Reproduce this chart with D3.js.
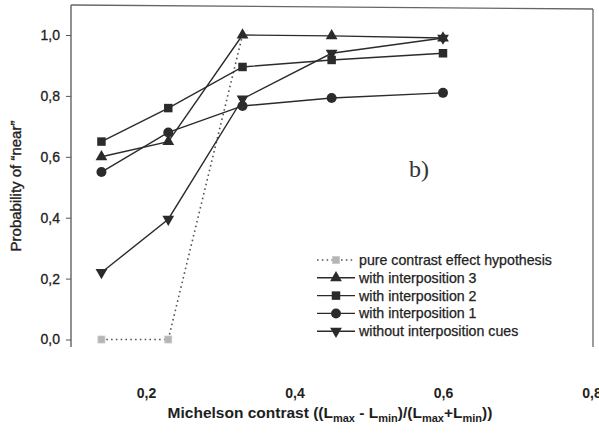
<!DOCTYPE html>
<html><head><meta charset="utf-8">
<script src="https://cdn.jsdelivr.net/npm/d3@7"></script>
<style>
html,body{margin:0;padding:0;background:#fff;}
svg{display:block;}
text{font-family:"Liberation Sans",Arial,sans-serif;fill:#2a2a2a;}
</style></head>
<body>
<svg id="c" width="599" height="441"></svg>
<script>
const contrast = [0.14, 0.23, 0.33, 0.45, 0.60];
const pureContrast = [0.0, 0.0, 1.0];
const interp3 = [0.60, 0.65, 1.00, 0.997, 0.99];
const interp2 = [0.65, 0.76, 0.895, 0.918, 0.94];
const interp1 = [0.55, 0.68, 0.767, 0.793, 0.81];
const noInterp = [0.22, 0.395, 0.79, 0.94, 0.99];
const xTicks = [0.2, 0.4, 0.6, 0.8];
const yTicks = [0.0, 0.2, 0.4, 0.6, 0.8, 1.0];
const legendLabels = ["pure contrast effect hypothesis","with interposition 3","with interposition 2","with interposition 1","without interposition cues"];

const svg = d3.select("#c");
const x = d3.scaleLinear().domain([0, 0.8]).range([-2.5, 591.5]);
const y = d3.scaleLinear().domain([0, 1]).range([339.5, 35]);
const fmt = d => d3.format(".1f")(d).replace(".", ",");
const ink = "#2b2b2b";

// frame
svg.append("line").attr("x1",71).attr("y1",5).attr("x2",71).attr("y2",347).attr("stroke","#555").attr("stroke-width",1.3);
svg.append("line").attr("x1",71).attr("y1",5).attr("x2",593).attr("y2",9).attr("stroke","#666").attr("stroke-width",1.3);
svg.append("line").attr("x1",593).attr("y1",9).attr("x2",593).attr("y2",347).attr("stroke","#666").attr("stroke-width",1.3);

// y axis
const ya = svg.append("g").attr("transform","translate(71,0)")
  .call(d3.axisLeft(y).tickValues(yTicks).tickFormat(fmt).tickSize(5).tickPadding(6));
ya.select(".domain").remove();
ya.selectAll("line").attr("stroke","#555");
ya.selectAll("text").style("font-size","14px").style("fill","#222").style("stroke","#222").style("stroke-width","0.3px");

// x axis
const xa = svg.append("g").attr("transform","translate(0,388)")
  .call(d3.axisBottom(x).tickValues(xTicks).tickFormat(fmt).tickSize(0).tickPadding(0));
xa.select(".domain").remove();
xa.selectAll("text").style("font-size","14px").style("font-weight","bold").style("fill","#222");

// axis titles
const xt = svg.append("text").attr("x",330).attr("y",418).attr("text-anchor","middle")
  .style("font-size","15.5px").style("font-weight","bold").style("fill","#1e1e1e");
xt.append("tspan").text("Michelson contrast ((L");
xt.append("tspan").text("max").attr("dy",4).style("font-size","11px");
xt.append("tspan").text(" - L").attr("dy",-4);
xt.append("tspan").text("min").attr("dy",4).style("font-size","11px");
xt.append("tspan").text(")/(L").attr("dy",-4);
xt.append("tspan").text("max").attr("dy",4).style("font-size","11px");
xt.append("tspan").text("+L").attr("dy",-4);
xt.append("tspan").text("min").attr("dy",4).style("font-size","11px");
xt.append("tspan").text("))").attr("dy",-4);

svg.append("text").attr("transform","translate(21,186) rotate(-90)").attr("text-anchor","middle")
  .style("font-size","15px").style("fill","#222").style("stroke","#222").style("stroke-width","0.35px")
  .text("Probability of \u201Cnear\u201D");

svg.append("text").attr("x",409).attr("y",177).style("font-family","'Liberation Serif','Times New Roman',serif")
  .style("font-size","24px").style("fill","#333").text("b)");

// symbols
const sym = {
  tri: d3.symbol().type(d3.symbolTriangle).size(60),
  sq: d3.symbol().type(d3.symbolSquare).size(72),
  circ: d3.symbol().type(d3.symbolCircle).size(78),
  down: d3.symbol().type(d3.symbolTriangle).size(60)
};
function drawMarker(g, kind, cx, cy){
  if(kind === "pure"){
    g.append("rect").attr("x",cx-3.5).attr("y",cy-3.5).attr("width",7).attr("height",7)
      .attr("fill","#b5b5b5").attr("stroke","#c8c8c8").attr("stroke-width",0.8);
    return;
  }
  let tr = `translate(${cx},${cy})`;
  if(kind === "down") tr += " rotate(180)";
  g.append("path").attr("d", sym[kind]()).attr("transform", tr).attr("fill",ink);
}

const line = d3.line().x((d,i)=>x(contrast[i])).y(d=>y(d));
const series = [
  {vals: pureContrast, kind:"pure", dash:"1.6,3.2", color:"#555", w:1.6},
  {vals: interp3, kind:"tri", dash:null, color:ink, w:1.4},
  {vals: interp2, kind:"sq", dash:null, color:ink, w:1.4},
  {vals: interp1, kind:"circ", dash:null, color:ink, w:1.4},
  {vals: noInterp, kind:"down", dash:null, color:ink, w:1.4}
];
const plot = svg.append("g");
series.forEach(s=>{
  plot.append("path").attr("d", line(s.vals)).attr("fill","none").attr("stroke",s.color)
    .attr("stroke-width",s.w).attr("stroke-dasharray",s.dash);
});
series.forEach(s=>{
  s.vals.forEach((v,i)=>{
    if(s.kind==="pure" && v===1.0) return;
    drawMarker(plot, s.kind, x(contrast[i]), y(v));
  });
});

// legend
const leg = svg.append("g");
const ly0 = 260, ldy = 17.8;
series.forEach((s,i)=>{
  const yy = ly0 + i*ldy;
  leg.append("line").attr("x1",317).attr("x2",355).attr("y1",yy).attr("y2",yy)
    .attr("stroke",s.color).attr("stroke-width",s.w).attr("stroke-dasharray",s.dash);
  drawMarker(leg, s.kind, 336, yy);
  leg.append("text").attr("x",359).attr("y",yy+5).style("font-size","14.2px").style("fill","#222")
    .style("stroke","#222").style("stroke-width","0.25px").text(legendLabels[i]);
});
</script>
</body></html>
